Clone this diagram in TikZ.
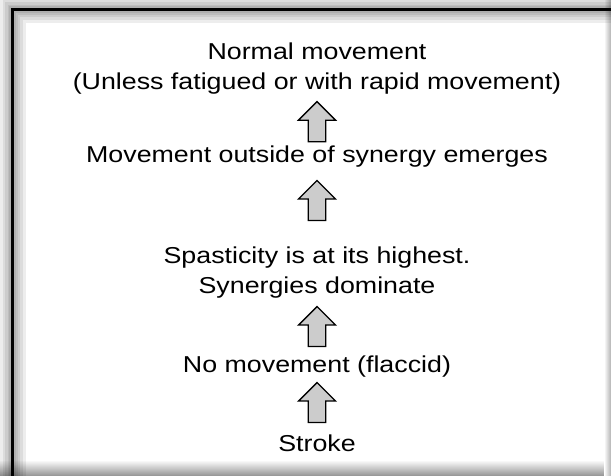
\documentclass[tikz,border=0pt]{standalone}
\usepackage{fontspec}
\setmainfont{Liberation Sans}[FakeStretch=1.165]
\definecolor{arrowgray}{RGB}{204,204,204}
\begin{document}
\begin{tikzpicture}[x=1pt,y=-1pt,
  txt/.style={font=\fontsize{23}{30}\selectfont, align=center, anchor=base, inner sep=0pt},
  uparr/.pic={\draw[fill=arrowgray, line width=1.4pt, line join=miter]
      (-8.75,20) -- (-8.75,-1.5) -- (-18.5,-1.5) -- (0,-20) -- (18.5,-1.5) -- (8.75,-1.5) -- (8.75,20) -- cycle;}]
\useasboundingbox (0,0) rectangle (611,475);
\fill[white] (0,0) rectangle (611,475);
% edge shading
\shade[top color=white, bottom color=black!40] (0,460) rectangle (611,475);
\shade[left color=white, right color=black!30] (604,0) rectangle (611,475);
% frame with blurred shadow
\foreach \w in {26,20,15,10,7} {\draw[black, opacity=0.07, line width=\w pt] (12.5,490) |- (630,9.5);}
\draw[black, line width=3pt] (12.5,490) |- (630,9.5);
% texts (base anchor = baseline of the last line)
\node[txt] (n1) at (317,89) {Normal movement\\(Unless fatigued or with rapid movement)};
\node[txt] (n2) at (317,162) {Movement outside of synergy emerges};
\node[txt] (n3) at (317,293) {Spasticity is at its highest.\\Synergies dominate};
\node[txt] (n4) at (317,372) {No movement (flaccid)};
\node[txt] (n5) at (317,451) {Stroke};
% arrows
\pic (a1) at (317,121.7) {uparr};
\pic (a2) at (317,200.5) {uparr};
\pic (a3) at (317,326.5) {uparr};
\pic (a4) at (317,402.5) {uparr};
\end{tikzpicture}
\end{document}
